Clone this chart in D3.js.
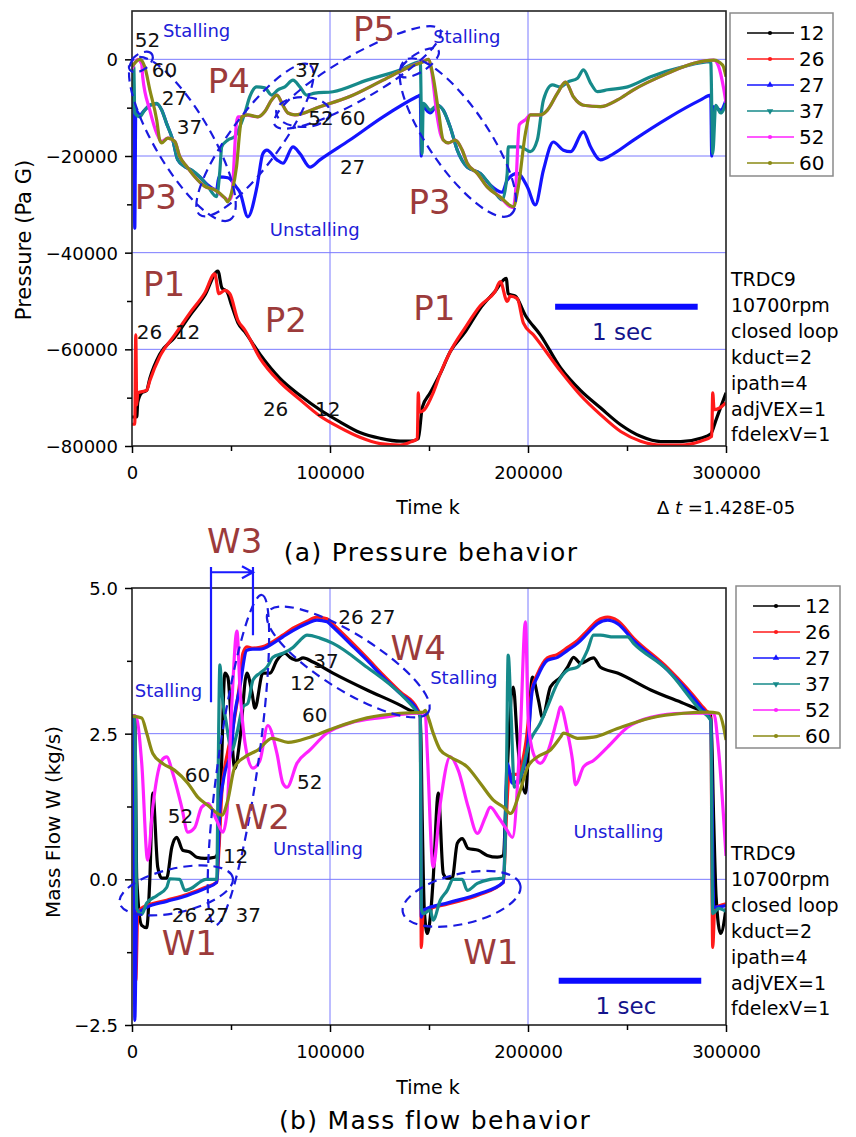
<!DOCTYPE html>
<html><head><meta charset="utf-8">
<script src="https://cdn.jsdelivr.net/npm/d3@7"></script>
<style>
body{margin:0;background:#fff}
svg text{font-family:"DejaVu Sans","Liberation Sans",sans-serif}
</style></head>
<body><svg id="chart" width="856" height="1137"></svg>
<script>
// ---- data ----
const seriesNames = ["12", "26", "27", "37", "52", "60"];
const seriesColors = ["#000000", "#ff1a1a", "#1414ff", "#168a8a", "#ff22ff", "#8a8a14"];

const timeTicks = [0, 100000, 200000, 300000];
const timeMinor = [50000, 150000, 250000];
const pressTicks = [-80000, -60000, -40000, -20000, 0];
const pressMinor = [-70000, -50000, -30000, -10000];
const flowTicks = [-2.5, 0, 2.5, 5];
const flowMinor = [-1.25, 1.25, 3.75];

// pressure, Pa G  [time step, value]
const p12 = [[0,-74000],[2400,-74000],[2900,-71000],[4900,-69000],[7400,-68500],[9000,-66000],[14000,-61000],[21600,-57500],[29200,-53000],[36800,-48800],[43400,-43800],[45400,-47300],[47900,-48000],[50400,-51000],[53500,-54500],[57000,-56400],[64600,-61000],[74700,-66000],[84800,-69500],[94900,-72500],[105000,-75000],[115100,-77200],[125300,-78400],[135400,-79000],[140500,-79000],[144600,-78500],[146600,-72000],[150600,-69000],[155700,-65000],[160700,-60500],[168300,-56400],[175900,-51500],[183400,-48000],[189000,-45300],[190000,-48500],[193600,-49000],[198700,-53000],[206200,-57000],[216400,-63800],[226500,-68500],[236600,-72100],[246800,-75600],[256900,-78000],[267000,-79100],[277100,-79100],[287200,-78400],[292300,-77500],[294800,-74800],[297300,-72000],[300000,-69000]];
const p26 = [[0,-75500],[1400,-75500],[1900,-57000],[2400,-71500],[2900,-69000],[7400,-68500],[9000,-66500],[14000,-61500],[21600,-57000],[29200,-52500],[36800,-48300],[41800,-44400],[43900,-48500],[46900,-47800],[49400,-48500],[53500,-54000],[57000,-56000],[64600,-61800],[74700,-66800],[84800,-70400],[94900,-73800],[105000,-76200],[115100,-78200],[125300,-79500],[135400,-79800],[140500,-79200],[144100,-78500],[144600,-69000],[145100,-73000],[147600,-72500],[152100,-69000],[155700,-65000],[160700,-60500],[168300,-55500],[175900,-51000],[183400,-48000],[186000,-46000],[189500,-50100],[191000,-49000],[194600,-49500],[197700,-54600],[202700,-57000],[216400,-64500],[226500,-69500],[236600,-73500],[246800,-77000],[256900,-79000],[267000,-79800],[277100,-79800],[287200,-79000],[292800,-78000],[293300,-69000],[294000,-72500],[297300,-72000],[300000,-71000]];
const p27 = [[0,-9500],[900,-9500],[1400,-35000],[1900,-10500],[3900,-11500],[6400,-10500],[9000,-9500],[12500,-9200],[15000,-10500],[17400,-13200],[20600,-16700],[23100,-20800],[26700,-22200],[30200,-23000],[34200,-24300],[38300,-26000],[42700,-27000],[43900,-24300],[48400,-24500],[52800,-26500],[54500,-27500],[58500,-32600],[63100,-26400],[66100,-19500],[68100,-18800],[73200,-20800],[76200,-21500],[81300,-18100],[84800,-19500],[89900,-22300],[94900,-20800],[110000,-16700],[126800,-11900],[144100,-7700],[145600,-7400],[146100,-20000],[146600,-9800],[150600,-11100],[154200,-9500],[157200,-10500],[160700,-14000],[164300,-18800],[169300,-22300],[175900,-23600],[180900,-26000],[187000,-27500],[189500,-25000],[194600,-23600],[199700,-26400],[203700,-30100],[207800,-22900],[212800,-17100],[217900,-18800],[221500,-19100],[228000,-15000],[231600,-18100],[236600,-20800],[243300,-19500],[253300,-16700],[270500,-12200],[287200,-8400],[292300,-7400],[292800,-20000],[293300,-9800],[297300,-10500],[300000,-8400]];
const p37 = [[0,-9800],[900,-1500],[1400,-11100],[3900,-11900],[6400,-10500],[9000,-9500],[12500,-9100],[15000,-10500],[17400,-13200],[20600,-16700],[23100,-20800],[26700,-22200],[30200,-22900],[34200,-24300],[38300,-26300],[42700,-28400],[44400,-22900],[45300,-18100],[48400,-16700],[51900,-16000],[54500,-13900],[57000,-11100],[59500,-7700],[62900,-5700],[67100,-5900],[70500,-7400],[73700,-6300],[77200,-5700],[81300,-4300],[84800,-5700],[88200,-7400],[92400,-7000],[101500,-6700],[118700,-4300],[135400,-2200],[145600,-500],[146500,-19500],[147100,-9100],[150600,-10500],[154200,-9500],[157200,-10500],[160700,-14000],[164300,-18800],[169300,-22300],[175900,-23600],[180900,-26000],[187000,-29100],[189500,-23600],[190000,-18100],[196100,-18100],[201200,-19100],[204700,-16700],[207800,-8400],[212300,-5300],[216400,-5700],[220000,-4700],[225000,-3900],[228000,-2200],[231600,-4900],[235100,-6700],[240200,-6300],[250300,-5700],[262000,-3600],[278600,-1500],[292300,-500],[293300,-19500],[294800,-9500],[297300,-11100],[300000,-9100]];
const p52 = [[0,-2000],[2900,0],[4900,-1000],[5400,-3600],[9000,-10500],[12500,-15300],[15000,-17000],[18100,-16300],[21600,-17000],[24100,-20100],[27700,-22200],[31700,-24300],[36800,-26300],[41800,-27000],[46900,-28700],[48400,-29100],[49400,-29000],[50400,-28000],[52800,-13000],[53500,-11900],[55400,-11900],[57000,-11500],[63600,-11900],[67100,-10800],[70500,-8400],[73200,-7400],[76200,-9500],[78800,-11100],[82300,-11500],[94900,-9800],[110000,-7700],[126800,-4300],[140500,-1500],[146600,-500],[149600,0],[151100,-2000],[154200,-12000],[155700,-15300],[157200,-16700],[159700,-17300],[163300,-16700],[166800,-18800],[169300,-21500],[174400,-23600],[179400,-26400],[186000,-28500],[191100,-30500],[192600,-30700],[193600,-28000],[195600,-13500],[198700,-12500],[201200,-11500],[206200,-11500],[209800,-10500],[214900,-7000],[218900,-4700],[223000,-7800],[228000,-9500],[236600,-9800],[245200,-8400],[253300,-6300],[270500,-2900],[283700,-800],[293800,-150],[296300,-1500],[298800,-6000],[300000,-9000]];
const p60 = [[0,-1500],[3900,0],[6400,-1500],[9000,-6300],[12500,-12600],[14000,-16700],[15000,-17300],[18100,-16300],[21600,-17000],[24100,-20100],[27700,-22200],[31700,-24300],[36800,-26300],[41800,-27000],[46900,-28700],[48400,-29500],[50200,-27700],[52800,-22200],[54500,-14600],[55400,-11900],[58500,-11500],[63600,-11900],[67100,-10800],[70500,-8400],[73200,-7400],[76200,-9500],[78800,-11100],[82300,-11500],[94900,-9800],[110000,-7700],[126800,-4300],[140500,-1500],[147100,-500],[149600,0],[152100,-3600],[154700,-10500],[157200,-16700],[159700,-17300],[163300,-16700],[166800,-18800],[169300,-21500],[174400,-23600],[179400,-26400],[186000,-28500],[192600,-30500],[195100,-26400],[198700,-15300],[201200,-11500],[206200,-11500],[209800,-10500],[214900,-7000],[218900,-4700],[223000,-7800],[228000,-9500],[236600,-9800],[245200,-8400],[253300,-6300],[270500,-2900],[283700,-800],[293800,-150],[298300,-1200],[300000,-3600]];

// mass flow, kg/s  [time step, value]
const w12 = [[0,2.80],[1400,2.80],[2400,0.0],[4900,-0.79],[7400,-0.83],[9000,0.0],[10500,1.48],[13000,0.21],[15000,0.02],[17500,0.02],[20100,0.55],[22600,0.72],[25600,0.50],[29200,0.47],[32700,0.38],[36800,0.36],[41800,0.38],[43400,0.45],[44900,1.6],[46900,3.54],[48400,3.47],[51900,1.90],[54500,2.40],[58000,3.54],[60600,3.20],[62100,2.94],[66100,3.54],[69700,3.54],[73200,3.76],[77200,3.88],[79800,3.81],[83300,3.76],[86400,3.80],[91400,3.73],[101500,3.54],[118700,3.25],[135400,2.99],[140500,2.90],[145600,2.85],[146600,1.00],[147600,-0.50],[149100,-0.93],[151100,-0.48],[152100,0.0],[154700,1.48],[157200,0.10],[159200,0.02],[161700,0.02],[164300,0.62],[166800,0.70],[169800,0.53],[174900,0.50],[179400,0.41],[184500,0.38],[187600,0.41],[189000,1.50],[192600,3.30],[194600,2.40],[198700,1.48],[202200,3.47],[205300,3.07],[207300,2.78],[211300,3.30],[216400,3.47],[220000,3.64],[223000,3.81],[226500,3.71],[233100,3.80],[236600,3.64],[245200,3.54],[262000,3.25],[278600,3.02],[287200,2.90],[292300,2.85],[293800,1.00],[295000,-0.30],[297300,-0.93],[300000,-0.50]];
const w26 = [[0,2.80],[1400,2.80],[1900,-1.74],[2900,-0.60],[5400,-0.48],[17500,-0.36],[27700,-0.26],[36800,-0.14],[42800,-0.05],[43900,0.50],[45400,1.50],[48400,2.20],[50900,2.60],[54500,3.40],[56000,3.88],[58000,3.99],[61100,3.97],[64600,3.98],[71200,4.08],[76200,4.19],[81300,4.31],[88400,4.43],[93400,4.50],[98500,4.47],[101500,4.38],[110000,4.10],[118700,3.80],[126800,3.51],[135400,3.22],[144100,2.93],[145600,2.80],[146100,-1.17],[147100,-0.55],[160000,-0.42],[175000,-0.27],[187600,-0.05],[189000,1.00],[190500,1.80],[194600,1.80],[198700,2.30],[202200,3.30],[204700,3.52],[209800,3.80],[214900,3.86],[220000,3.98],[225000,4.10],[230000,4.27],[235100,4.44],[240200,4.50],[245200,4.44],[253300,4.14],[270500,3.63],[287200,3.00],[292300,2.76],[293300,-1.17],[294300,-0.50],[300000,-0.42]];
const w27 = [[0,2.80],[900,2.80],[1400,-2.42],[2400,-0.60],[4900,-0.53],[7400,-0.48],[17500,-0.38],[27700,-0.28],[36800,-0.16],[42800,-0.05],[44400,1.20],[46400,1.75],[50400,2.27],[50900,2.51],[54500,3.30],[58000,3.93],[61100,3.95],[64600,3.95],[71200,4.05],[76200,4.16],[81300,4.27],[88400,4.39],[93400,4.45],[98500,4.42],[101500,4.33],[110000,4.05],[118700,3.76],[126800,3.47],[135400,3.19],[144100,2.90],[145600,2.78],[146100,-0.65],[147100,-0.53],[160000,-0.40],[175000,-0.25],[187600,-0.05],[189500,1.99],[192100,1.65],[196100,1.75],[199700,2.27],[202200,3.25],[204700,3.47],[209800,3.76],[214900,3.81],[220000,3.93],[225000,4.05],[230000,4.22],[235100,4.39],[240200,4.45],[245200,4.39],[253300,4.10],[270500,3.59],[287200,2.96],[292300,2.73],[293800,-0.48],[300000,-0.45]];
const w37 = [[0,2.80],[1400,2.80],[2400,-0.50],[4900,-0.60],[7400,-0.41],[12500,-0.28],[17500,-0.14],[19100,0.01],[24100,0.00],[26700,-0.19],[30700,-0.14],[34200,-0.05],[37300,0.00],[42800,0.00],[43400,1.50],[44400,3.68],[45400,3.20],[47400,2.73],[50400,2.22],[53000,2.51],[56000,2.96],[58500,3.02],[61100,3.42],[64600,3.54],[68100,3.64],[71200,3.81],[76200,3.88],[81300,3.98],[84800,4.10],[88400,4.19],[94900,4.14],[101500,4.05],[118700,3.64],[135400,3.19],[144100,2.87],[145600,2.80],[146100,-0.50],[147100,-0.59],[150600,-0.53],[152100,-0.70],[155700,-0.36],[159200,-0.19],[162200,0.00],[166800,0.00],[169300,-0.19],[174400,-0.07],[180900,0.00],[187600,0.02],[189000,1.50],[190000,3.85],[191500,2.80],[193100,1.58],[194600,1.62],[201200,2.39],[206200,2.68],[209800,2.96],[214900,3.37],[220000,3.59],[225000,3.64],[230000,3.93],[233100,4.19],[236600,4.19],[243300,4.16],[250300,4.16],[253300,4.05],[270500,3.59],[287200,2.90],[292300,2.73],[293300,-0.59],[296300,-0.50],[300000,-0.55]];
const w52 = [[0,2.80],[1900,2.80],[4900,2.00],[7900,0.33],[10500,1.24],[15000,2.04],[17500,2.10],[20600,1.82],[25100,1.24],[28200,0.81],[31700,0.89],[35200,1.24],[38300,1.30],[42800,1.01],[45900,0.81],[47900,1.13],[50400,3.00],[53000,4.26],[54500,3.30],[58000,2.16],[61100,1.91],[64600,2.04],[68600,2.64],[73200,2.16],[76200,1.65],[78300,1.58],[83300,1.99],[89900,2.22],[98500,2.51],[110000,2.68],[126800,2.78],[144100,2.85],[148100,2.85],[149100,2.20],[152100,0.21],[155700,1.30],[160700,2.10],[164800,1.87],[169800,1.24],[174400,0.79],[178500,1.07],[180900,1.24],[185000,1.07],[189500,0.84],[192100,0.72],[196100,2.50],[198700,4.42],[200200,2.68],[202700,2.16],[206200,1.99],[210300,2.22],[214900,2.78],[216400,2.96],[220000,2.51],[222500,2.04],[224000,1.62],[228000,1.93],[233100,2.04],[240200,2.27],[250300,2.61],[262000,2.78],[278600,2.85],[293800,2.85],[296300,2.20],[300000,0.40]];
const w60 = [[0,2.80],[4900,2.77],[7400,2.51],[10500,2.16],[15500,1.99],[21600,1.87],[28200,1.65],[33200,1.41],[38300,1.27],[45400,1.10],[48400,1.36],[51900,1.93],[57000,2.10],[63600,2.22],[70700,2.42],[78800,2.35],[89900,2.44],[101500,2.59],[118700,2.77],[135400,2.85],[147100,2.87],[148100,2.90],[149600,2.78],[152100,2.51],[155700,2.22],[160700,2.10],[169300,1.93],[175900,1.65],[182500,1.36],[187600,1.24],[191100,1.13],[196100,1.53],[199700,1.92],[204700,2.10],[211300,2.22],[216400,2.44],[217900,2.51],[225000,2.42],[233100,2.44],[245200,2.59],[262000,2.77],[278600,2.85],[290700,2.87],[296300,2.85],[298800,2.61],[300000,2.39]];

const runInfo = ["TRDC9", "10700rpm", "closed loop", "kduct=2", "ipath=4", "adjVEX=1", "fdelexV=1"];

// text notes placed in data units: [time, value, text, kind]
const pressNotes = [
  [15600, 6000, "Stalling", "state"], [1400, 4000, "52", "num"], [10000, -2200, "60", "num"],
  [15000, -8000, "27", "num"], [22600, -14000, "37", "num"], [1400, -28300, "P3", "phase"],
  [38300, -4300, "P4", "phase"], [111600, 6300, "P5", "phase"], [82300, -2200, "37", "num"],
  [89000, -12000, "52 60", "num"], [105000, -22300, "27", "num"], [69600, -35100, "Unstalling", "state"],
  [152100, 4800, "Stalling", "state"], [139600, -29500, "P3", "phase"], [5500, -46300, "P1", "phase"],
  [2400, -56400, "26", "num"], [21600, -56400, "12", "num"], [67100, -53800, "P2", "phase"],
  [66100, -72300, "26", "num"], [92400, -72300, "12", "num"], [142000, -51400, "P1", "phase"]
];
const flowNotes = [
  [1400, 3.25, "Stalling", "state"], [104200, 4.50, "26 27", "num"], [130600, 3.97, "W4", "phase"],
  [91500, 3.76, "37", "num"], [79800, 3.37, "12", "num"], [85900, 2.82, "60", "num"],
  [83300, 1.67, "52", "num"], [26700, 1.79, "60", "num"], [18100, 1.10, "52", "num"],
  [51900, 1.08, "W2", "phase"], [45900, 0.40, "12", "num"], [71200, 0.53, "Unstalling", "state"],
  [20100, -0.60, "26 27 37", "num"], [15000, -1.09, "W1", "phase"], [150600, 3.47, "Stalling", "state"],
  [223000, 0.82, "Unstalling", "state"], [167300, -1.24, "W1", "phase"], [37900, 5.81, "W3", "phase"]
];

// dashed ellipses: major-axis ends in data units [t1, v1, t2, v2], half width in px
const pressRings = [
  {ends: [1400, 260, 49500, -33200], half: 28}, {ends: [138000, -150, 191100, -32200], half: 30},
  {ends: [34300, -32200, 89900, -1200], half: 25}, {ends: [72100, -13600, 155600, 6100], half: 22},
  {ends: [-1100, -2200, 10000, 1100], half: 8}, {ends: [135400, -3300, 154700, 1900], half: 9},
  {ends: [72800, -10900, 100000, -10900], half: 15}
];
const flowRings = [
  {ends: [41900, -0.79, 65600, 4.88], half: 20}, {ends: [68800, 4.59, 149700, 2.87], half: 28},
  {ends: [-6200, -0.41, 50900, 0.03], half: 22}, {ends: [136800, -0.57, 196100, -0.10], half: 25}
];
const secBars = [[213700, 285700, -51200], [215500, 287500, -1.74]];
const w3Span = [39900, 61100];

// ---- drawing ----
const svg = d3.select("#chart");
svg.append("rect").attr("width", 856).attr("height", 1137).attr("fill", "#fff");

const x = d3.scaleLinear().domain([0, 300000]).range([132, 726]);
const yP = d3.scaleLinear().domain([-80000, 10000]).range([446, 11]);
const yW = d3.scaleLinear().domain([-2.5, 5]).range([1025, 588]);

const noteStyle = {
  state: {size: 18, color: "#2020d8"},
  num: {size: 20, color: "#111"},
  phase: {size: 34, color: "#9c3b3b"}
};
const ringBlue = "#1a1ae0";

function panel(id, y, series, yTicks, yMinor, yFmt, gridY, notes, rings, bar, legendBox) {
  const g = svg.append("g");
  const [x0, x1] = x.range();
  const [yb, yt] = y.range();

  svg.append("clipPath").attr("id", "clip" + id)
    .append("rect").attr("x", x0).attr("y", yt).attr("width", x1 - x0).attr("height", yb - yt);

  // grid
  g.selectAll(".gy").data(gridY).join("line")
    .attr("x1", x0).attr("x2", x1).attr("y1", d => y(d)).attr("y2", d => y(d))
    .attr("stroke", "#7b7bff").attr("stroke-width", 1);
  g.selectAll(".gx").data([100000, 200000]).join("line")
    .attr("x1", d => x(d)).attr("x2", d => x(d)).attr("y1", yt).attr("y2", yb)
    .attr("stroke", "#7b7bff").attr("stroke-width", 1);

  // curves
  const line = d3.line().x(d => x(d[0])).y(d => y(d[1])).curve(d3.curveMonotoneX);
  g.append("g").attr("clip-path", `url(#clip${id})`)
    .selectAll("path").data(series).join("path")
    .attr("d", d => line(d))
    .attr("fill", "none")
    .attr("stroke", (d, i) => seriesColors[i])
    .attr("stroke-width", 3.2)
    .attr("stroke-linejoin", "round");

  // frame
  g.append("rect").attr("x", x0).attr("y", yt).attr("width", x1 - x0).attr("height", yb - yt)
    .attr("fill", "none").attr("stroke", "#222").attr("stroke-width", 1.6);

  // axes
  const xa = g.append("g").attr("transform", `translate(0,${yb})`)
    .call(d3.axisBottom(x).tickValues(timeTicks).tickSize(7).tickSizeOuter(0).tickFormat(d3.format("d")));
  g.append("g").attr("transform", `translate(0,${yb})`)
    .call(d3.axisBottom(x).tickValues(timeMinor).tickSize(5).tickSizeOuter(0).tickFormat(""));
  const ya = g.append("g").attr("transform", `translate(${x0},0)`)
    .call(d3.axisLeft(y).tickValues(yTicks).tickSize(7).tickSizeOuter(0).tickFormat(yFmt));
  g.append("g").attr("transform", `translate(${x0},0)`)
    .call(d3.axisLeft(y).tickValues(yMinor).tickSize(5).tickSizeOuter(0).tickFormat(""));
  g.selectAll(".domain").remove();
  g.selectAll(".tick line").attr("stroke", "#000").attr("stroke-width", 1.5);
  g.selectAll(".tick text").attr("fill", "#000").style("font-size", "18px")
    .style("font-family", '"DejaVu Sans","Liberation Sans",sans-serif');
  xa.selectAll(".tick text").attr("y", 20).attr("dy", "0.71em");
  ya.selectAll(".tick text").attr("x", -14).attr("dy", "0.36em");

  // ellipses
  rings.forEach(r => {
    const [t1, v1, t2, v2] = r.ends;
    const ax = x(t1), ay = y(v1), bx = x(t2), by = y(v2);
    const cx = (ax + bx) / 2, cy = (ay + by) / 2;
    const ang = Math.atan2(by - ay, bx - ax) * 180 / Math.PI;
    g.append("ellipse").attr("cx", cx).attr("cy", cy)
      .attr("rx", Math.hypot(bx - ax, by - ay) / 2).attr("ry", r.half)
      .attr("transform", `rotate(${ang},${cx},${cy})`)
      .attr("fill", "none").attr("stroke", ringBlue).attr("stroke-width", 2.2)
      .attr("stroke-dasharray", "9,6");
  });

  // notes
  g.selectAll(".note").data(notes).join("text")
    .attr("x", d => x(d[0]))
    .attr("y", d => y(d[1]) + noteStyle[d[3]].size * 0.365)
    .attr("fill", d => noteStyle[d[3]].color)
    .style("font-size", d => noteStyle[d[3]].size + "px")
    .text(d => d[2]);

  // 1 sec bar
  g.append("line").attr("x1", x(bar[0])).attr("x2", x(bar[1])).attr("y1", y(bar[2])).attr("y2", y(bar[2]))
    .attr("stroke", "#0a0aff").attr("stroke-width", 6);
  g.append("text").attr("x", (x(bar[0]) + x(bar[1])) / 2 - 4).attr("y", y(bar[2]) + 33)
    .attr("text-anchor", "middle").attr("fill", "#14148c").style("font-size", "23px").text("1 sec");

  // run info
  g.selectAll(".info").data(runInfo).join("text")
    .attr("x", x1 + 5).attr("y", (d, i) => legendBox.infoTop + i * 25.9 + 7)
    .attr("fill", "#000").style("font-size", "19px").text(d => d);

  // legend
  const lg = g.append("g").attr("transform", `translate(${legendBox.x},${legendBox.y})`);
  lg.append("rect").attr("width", legendBox.w).attr("height", legendBox.h)
    .attr("fill", "#fff").attr("stroke", "#8a8a8a").attr("stroke-width", 1.5);
  const row = lg.selectAll(".row").data(seriesNames).join("g")
    .attr("transform", (d, i) => `translate(0,${20 + i * 26})`);
  row.append("line").attr("x1", 17).attr("x2", 64).attr("stroke", (d, i) => seriesColors[i]).attr("stroke-width", 1.3);
  row.append("path")
    .attr("d", (d, i) => d3.symbol().type(i === 2 || i === 3 ? d3.symbolTriangle : d3.symbolCircle).size(i === 2 || i === 3 ? 18 : 14)())
    .attr("transform", (d, i) => `translate(40,0)${i === 3 ? " rotate(180)" : ""}`)
    .attr("fill", (d, i) => seriesColors[i]);
  row.append("text").attr("x", 69).attr("y", 7.3).attr("fill", "#000").style("font-size", "20px").text(d => d);

  return g;
}

const fmtP = d3.format("d");
const fmtW = d3.format(".1f");

panel("P", yP, [p12, p26, p27, p37, p52, p60], pressTicks, pressMinor, fmtP,
  [-60000, -40000, -20000, 0], pressNotes, pressRings, secBars[0],
  {x: 730, y: 13, w: 103, h: 163, infoTop: 279});
const gW = panel("W", yW, [w12, w26, w27, w37, w52, w60], flowTicks, flowMinor, fmtW,
  [0, 2.5], flowNotes, flowRings, secBars[1],
  {x: 736, y: 586, w: 104, h: 162, infoTop: 853});

// W3 bracket with arrow
const ya0 = yW(5.27);
gW.append("path")
  .attr("d", `M${x(w3Span[0])},${yW(3.04)}V${yW(5.36)}M${x(w3Span[0])},${ya0}H${x(w3Span[1])}` +
    `M${x(w3Span[1])},${yW(5.36)}V${yW(4.19)}M${x(w3Span[1]) - 11},${ya0 - 6}L${x(w3Span[1])},${ya0}L${x(w3Span[1]) - 11},${ya0 + 6}`)
  .attr("fill", "none").attr("stroke", "#1a1aff").attr("stroke-width", 2.2);

// axis titles and captions
const txt = (xp, yp, s, size, spacing = 0) => svg.append("text").attr("x", xp).attr("y", yp)
  .attr("text-anchor", "middle").attr("fill", "#000").style("font-size", size + "px")
  .style("letter-spacing", spacing + "px").text(s);

svg.append("text").attr("transform", "translate(23,240) rotate(-90)").attr("dy", "0.36em")
  .attr("text-anchor", "middle").style("font-size", "21px").text("Pressure (Pa G)");
svg.append("text").attr("transform", "translate(53,822) rotate(-90)").attr("dy", "0.36em")
  .attr("text-anchor", "middle").style("font-size", "20px").text("Mass Flow W (kg/s)");
txt(428, 514, "Time k", 19);
txt(428, 1094, "Time k", 19);
txt(431, 561, "(a) Pressure behavior", 25, 1.3);
txt(435, 1129, "(b) Mass flow behavior", 25, 1.3);

const dt = svg.append("text").attr("x", 657).attr("y", 514).style("font-size", "18px").attr("fill", "#000");
dt.append("tspan").text("Δ");
dt.append("tspan").attr("font-style", "italic").text(" t ");
dt.append("tspan").text("=1.428E-05");
</script>
</body></html>
